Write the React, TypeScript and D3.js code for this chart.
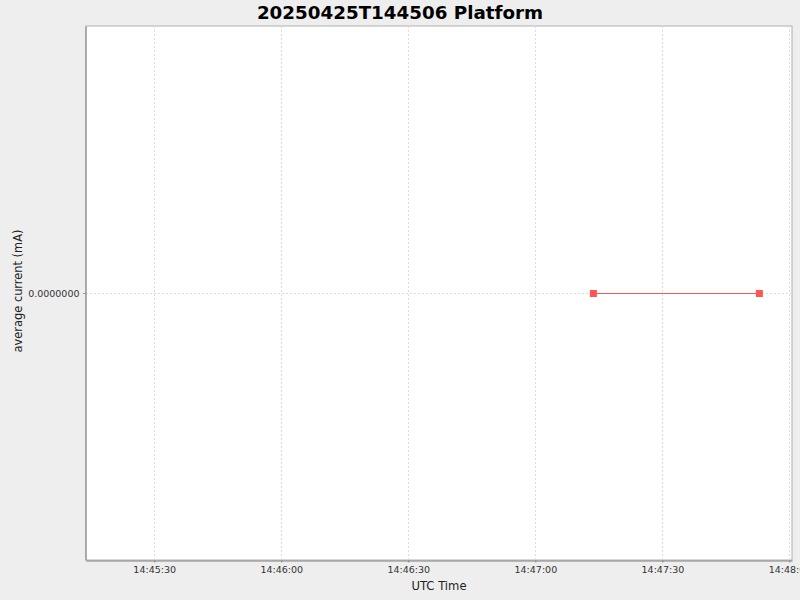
import React, { useEffect, useRef } from "react";
import * as d3 from "d3";

const titleText = "20250425T144506 Platform";
const xLabel = "UTC Time";
const yLabel = "average current (mA)";

// domain limits of the time axis (UTC)
const timeDomain = ["2025-04-25T14:45:13.9Z", "2025-04-25T14:48:00.6Z"];
const tickTimes = [
  "2025-04-25T14:45:30Z",
  "2025-04-25T14:46:00Z",
  "2025-04-25T14:46:30Z",
  "2025-04-25T14:47:00Z",
  "2025-04-25T14:47:30Z",
  "2025-04-25T14:48:00Z",
];
const sampleTimes = ["2025-04-25T14:47:13.7Z", "2025-04-25T14:47:52.9Z"];
const sampleValues = [0, 0];
const yDomain = [-1, 1];
const yTicks = [0];

const W = 800;
const H = 600;
const margin = { left: 86, top: 26, right: 8, bottom: 40 };
const font = "'DejaVu Sans', sans-serif";

export default function App() {
  const ref = useRef<SVGSVGElement>(null);

  useEffect(() => {
    document.body.style.margin = "0";
    const svg = d3.select(ref.current);
    svg.selectAll("*").remove();

    const pw = W - margin.left - margin.right;
    const ph = H - margin.top - margin.bottom;

    svg.append("rect").attr("width", W).attr("height", H).attr("fill", "#eeeeee");

    const x = d3.scaleUtc()
      .domain(timeDomain.map(t => new Date(t)))
      .range([margin.left, margin.left + pw]);
    const y = d3.scaleLinear().domain(yDomain).range([margin.top + ph, margin.top]);

    // plot background + outline
    svg.append("rect")
      .attr("x", margin.left).attr("y", margin.top)
      .attr("width", pw).attr("height", ph)
      .attr("fill", "white").attr("stroke", "#b0b0b0").attr("stroke-width", 1);

    const ticks = tickTimes.map(t => new Date(t));
    const fmt = d3.utcFormat("%H:%M:%S");

    // grid
    const grid = svg.append("g").attr("stroke", "#dddddd").attr("stroke-dasharray", "2,2").attr("stroke-width", 1);
    ticks.forEach(t => {
      const px = Math.round(x(t)) + 0.5;
      if (px > margin.left + pw) return;
      grid.append("line").attr("x1", px).attr("x2", px).attr("y1", margin.top).attr("y2", margin.top + ph);
    });
    yTicks.forEach(v => {
      const py = Math.round(y(v)) + 0.5;
      grid.append("line").attr("x1", margin.left).attr("x2", margin.left + pw).attr("y1", py).attr("y2", py);
    });

    // x axis
    const xa = svg.append("g")
      .attr("transform", `translate(0,${margin.top + ph + 0.5})`)
      .call(d3.axisBottom(x).tickValues(ticks).tickFormat(d => fmt(d as Date)).tickSizeInner(2).tickSizeOuter(0).tickPadding(4));
    xa.select(".domain").attr("stroke", "#808080");
    xa.selectAll(".tick line").attr("stroke", "#808080");
    xa.selectAll("text").attr("font-family", font).attr("font-size", 9.5).attr("fill", "#333333");

    // y axis
    const ya = svg.append("g")
      .attr("transform", `translate(${margin.left - 0.5},0)`)
      .call(d3.axisLeft(y).tickValues(yTicks).tickFormat(d => d3.format(".7f")(d as number)).tickSizeInner(2).tickSizeOuter(0).tickPadding(4));
    ya.select(".domain").attr("stroke", "#808080");
    ya.selectAll(".tick line").attr("stroke", "#808080");
    ya.selectAll("text").attr("font-family", font).attr("font-size", 9.5).attr("fill", "#333333");

    // series
    const pts = sampleTimes.map((t, i) => ({ t: new Date(t), v: sampleValues[i] }));
    const line = d3.line<{ t: Date; v: number }>().x(d => x(d.t)).y(d => Math.round(y(d.v)) + 0.5);
    svg.append("path").datum(pts).attr("d", line).attr("fill", "none").attr("stroke", "#ff5555").attr("stroke-width", 1);
    svg.append("g").selectAll("rect").data(pts).enter().append("rect")
      .attr("x", d => x(d.t) - 3.5).attr("y", d => Math.round(y(d.v)) + 0.5 - 3.5)
      .attr("width", 7).attr("height", 7).attr("fill", "#ff5555");

    // labels
    svg.append("text").attr("x", W / 2).attr("y", 19).attr("text-anchor", "middle")
      .attr("font-family", font).attr("font-weight", "bold").attr("font-size", 18.3).attr("fill", "black").text(titleText);
    svg.append("text").attr("x", margin.left + pw / 2).attr("y", 590).attr("text-anchor", "middle")
      .attr("font-family", font).attr("font-size", 11.6).attr("fill", "#222").text(xLabel);
    svg.append("text").attr("transform", `translate(22,${margin.top + ph / 2 - 2}) rotate(-90)`).attr("text-anchor", "middle")
      .attr("font-family", font).attr("font-size", 11.4).attr("fill", "#222").text(yLabel);
  }, []);

  return <svg ref={ref} width={W} height={H} style={{ display: "block" }} />;
}
